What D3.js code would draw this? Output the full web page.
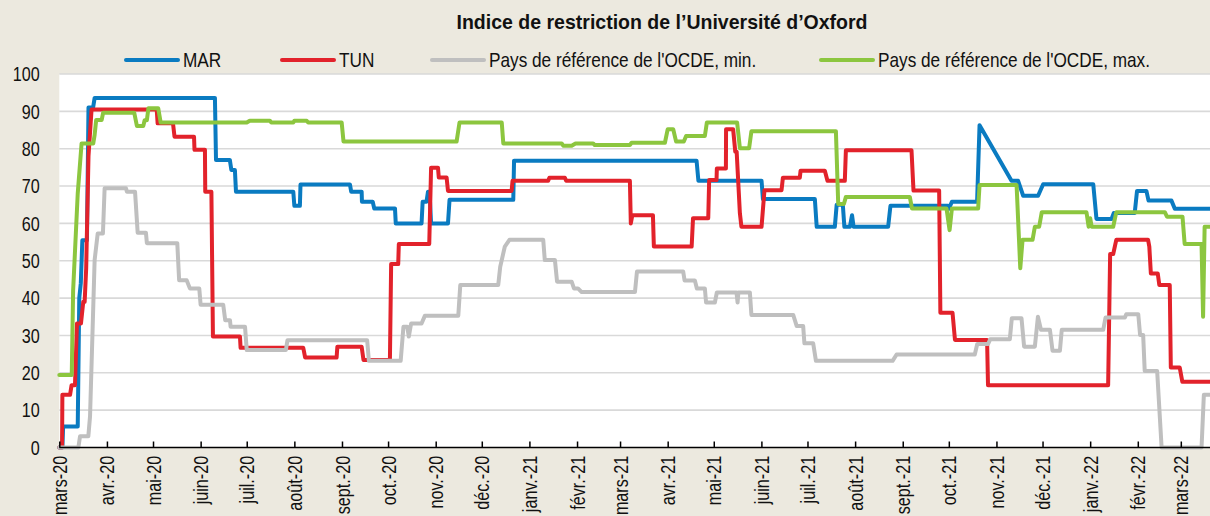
<!DOCTYPE html>
<html><head><meta charset="utf-8">
<script src="https://cdn.jsdelivr.net/npm/d3@7"></script>
<style>
html,body{margin:0;padding:0;background:#ECE9DF;}
svg{display:block;}
text{font-family:"Liberation Sans",Arial,sans-serif;fill:#111;}
</style></head>
<body>
<svg id="chart" width="1210" height="516"></svg>
<script>
// ---- DATA (day offset from 1 March 2020, index value) ----
const TITLE = "Indice de restriction de l\u2019Université d\u2019Oxford";
const seriesNames = ["MAR", "TUN", "Pays de référence de l'OCDE, min.", "Pays de référence de l'OCDE, max."];
const seriesColors = ["#0A7BC1", "#E2222B", "#BFBFBF", "#8CC63F"];
const yTicks = [0,10,20,30,40,50,60,70,80,90,100];
const monthLabels = ["mars-20","avr.-20","mai-20","juin-20","juil.-20","août-20","sept.-20","oct.-20","nov.-20","déc.-20",
  "janv.-21","févr.-21","mars-21","avr.-21","mai-21","juin-21","juil.-21","août-21","sept.-21","oct.-21","nov.-21","déc.-21",
  "janv.-22","févr.-22","mars-22"];
const lastDay = 749;

const MAR = [[0,0],[2,0],[2.5,5.6],[12,5.6],[13,40],[14,44],[15,55.5],[18,55.5],[19,91],[22,91],[23,93.6],[101.3,93.6],[102,77],
 [111,77],[112,74.3],[114.3,74.3],[115,68.5],[152.3,68.5],[153,64.7],[156.6,64.7],[157,70.4],[189.2,70.4],[190,68.5],
 [196.8,68.5],[197,65.8],[204,65.8],[205,64],[218.5,64],[219,60],[235.8,60],[236.5,65.8],[239,65.8],[240,68.5],[241,68.5],
 [242,60],[253,60],[254,66.3],[295.5,66.3],[296,76.8],[414.8,76.8],[416,71.4],[457.1,71.4],[458,66.5],[491.8,66.5],
 [493,59.1],[504.8,59.1],[506,65],[510,65],[511,59.1],[514.6,59.1],[516,62.2],[517,59.1],[539.5,59.1],[541,64.7],
 [578.6,64.7],[579,63.9],[581,65.8],[597.4,65.8],[599,86.3],[619.8,71.4],[624.1,71.4],[627.4,67.4],[637.1,67.4],
 [640.4,70.5],[673,70.5],[675.1,61.2],[684.9,61.2],[686.4,62.8],[700,62.8],[701.5,68.7],[707.6,68.7],[709,66.1],
 [723.9,66.1],[726.1,63.9],[749,63.9]];

const TUN = [[0,0],[1.8,0],[2,14.1],[7,14.1],[8,16.7],[10.2,16.7],[11.5,33.2],[14.1,33.2],[15.6,39],[16.5,39],[17.5,48],
 [19,78],[21,90.5],[63.4,90.5],[64,86.8],[74,86.8],[75,83.2],[87.7,83.2],[88,79.7],[94.8,79.7],[95,68.5],[99,68.5],
 [100,29.7],[117.6,29.7],[118,26.7],[158.8,26.7],[160,24.1],[180.5,24.1],[181,27],[196.8,27],[198,23.4],[215.2,23.4],
 [216,49.1],[220.6,49.1],[221,54.5],[240.8,54.5],[242,74.9],[246.5,74.9],[247,72.3],[252.1,72.3],[253,68.7],
 [294.4,68.7],[295,71.4],[318.2,71.4],[319,72.2],[329.1,72.2],[330,71.4],[371.4,71.4],[372,60],[373,62.2],[386.4,62.2],
 [387,53.8],[411.6,53.8],[412.5,61.4],[422.4,61.4],[423,71.6],[427.8,71.6],[428,74.7],[433.9,74.7],[434,85.2],
 [438.6,85.2],[440,79.2],[440.9,79.2],[443,62.7],[444,59.1],[457.1,59.1],[459,68.9],[470.1,68.9],[471,72.2],[482,72.2],
 [482.5,74.1],[498.3,74.1],[500,71.4],[511.3,71.4],[512,79.6],[554.7,79.6],[556,68.8],[572.7,68.8],[573.5,36.1],
 [581.4,36.1],[583,28.8],[603.9,28.8],[604.5,16.7],[682.7,16.7],[684,51.8],[686,51.8],[688,55.6],[708.7,55.6],
 [709.5,53.8],[710.5,46.6],[715,46.6],[716,43.5],[722.8,43.5],[723.5,21.4],[729.3,21.4],[731,17.6],[749,17.6]];

const OCDE_MIN = [[0,0],[12.4,0],[13.5,3],[18.9,3],[20,8.3],[23,50.2],[25,57.3],[28.4,57.3],[29.5,69.4],[43.4,69.4],
 [44,68.5],[49.3,68.5],[51,57.5],[56.4,57.5],[57,54.7],[76.8,54.7],[78,44.8],[82.9,44.8],[85,42.6],[91.1,42.6],[92,38.2],
 [106.7,38.2],[108,34.1],[111.1,34.1],[111.5,32.3],[120.9,32.3],[122,26.1],[147.5,26.1],[148.5,28.7],[200.4,28.7],
 [201.5,23.2],[222.2,23.2],[224,32.3],[226.5,32.3],[227.5,29.7],[229,33.2],[235.8,33.2],[238,35.3],[259.7,35.3],
 [261,43.5],[285.7,43.5],[287,48.4],[290,53.8],[293,55.6],[315,55.6],[316,50.2],[322.6,50.2],[324,44.4],[333.5,44.4],
 [335,42.6],[337.6,42.6],[340,41.6],[374.7,41.6],[376,47.1],[406.1,47.1],[407,44.7],[413.7,44.7],[415,42.6],[420.2,42.6],
 [421,38.8],[426.7,38.8],[428,41.5],[440.8,41.5],[441.5,38.8],[442,41.5],[449.5,41.5],[450.5,35.5],[477.7,35.5],
 [480,32.5],[484.2,32.5],[485,27.9],[490.7,27.9],[492.5,23.2],[542.4,23.2],[545,24.9],[595.9,24.9],[597.5,27.7],
 [604.5,27.7],[606,29],[618.7,29],[620,34.6],[626.3,34.6],[628,27],[635,27],[637,35],[639,31.5],[644.8,31.5],
 [646.5,25.9],[651.3,25.9],[652.5,31.5],[679.5,31.5],[681,34.8],[693.6,34.8],[694.5,35.7],[702.3,35.7],[703.5,30.1],
 [705.5,30.1],[706.5,20.5],[714.6,20.5],[717.5,0],[743.5,0],[745,14.1],[749,14.1]];

const OCDE_MAX = [[0,19.4],[8.1,19.4],[9,42],[12,68],[14.5,81.4],[22.1,81.4],[23,83.7],[24,87.7],[27.6,87.7],[28.5,89.6],
 [48.8,89.6],[50.5,86.1],[54.7,86.1],[55.5,87.6],[57,87.6],[58,90.8],[64.4,90.8],[66,87],[122,87],[124,87.5],[137.1,87.5],
 [138,87],[152.3,87],[153,87.5],[161,87.5],[162,87],[183.8,87],[185,81.9],[258.6,81.9],[260.5,87],[288,87],[289,81.4],
 [327,81.4],[328,80.8],[333.5,80.8],[336,81.4],[347.5,81.4],[348.5,81],[371.4,81],[372.5,81.6],[394.2,81.6],[396,85.2],
 [399.6,85.2],[401.5,81.9],[406.5,81.9],[408,83.4],[420.2,83.4],[421.5,87],[441.2,87],[443,80.1],[449,80.1],[450.5,84.7],
 [505.5,84.7],[507,65.2],[510.7,65.2],[512,67.1],[553.6,67.1],[555,64],[577.5,64],[579.5,58.2],[581,64],[598.1,64],
 [599,70.3],[623.1,70.3],[625.5,48],[627,55.6],[633.5,55.6],[635,59.1],[637.8,59.1],[639.5,63],[668.6,63],[670,59.1],
 [671,61.4],[672,59.1],[686,59.1],[688,63],[719.6,63],[721,61.8],[731.1,61.8],[732.5,54.5],[743.5,54.5],[744.5,35],
 [745.5,59.1],[749,59.1]];

const allSeries = [MAR, TUN, OCDE_MIN, OCDE_MAX];

// ---- CHART ----
const W = 1210, H = 516;
const M = {left: 59.3, right: 0, top: 74, bottom: 68.5};
const NARROW = 0.82;           // horizontal squeeze emulating a narrow face
const START = new Date(2020, 2, 1);
const toDate = d => new Date(START.getTime() + d * 864e5);

const svg = d3.select("#chart");
const x = d3.scaleTime().domain([START, toDate(lastDay)]).range([M.left, W - M.right]);
const y = d3.scaleLinear().domain([0, 100]).range([H - M.bottom, M.top]);

// plot background
svg.append("rect").attr("x", M.left).attr("y", M.top)
  .attr("width", W - M.right - M.left).attr("height", y(0) - M.top).attr("fill", "#fff");

// gridlines
svg.append("g").selectAll("line").data(yTicks.filter(d => d > 0)).join("line")
  .attr("x1", M.left).attr("x2", W - M.right)
  .attr("y1", d => y(d)).attr("y2", d => y(d))
  .attr("stroke", "#D9D9D9").attr("stroke-width", 1.6);

// y labels
const yAxis = d3.axisLeft(y).tickValues(yTicks).tickSize(0).tickPadding(0);
const gy = svg.append("g").attr("transform", `translate(${M.left - 19.5},0)`).call(yAxis);
gy.select(".domain").remove();
gy.selectAll("text").attr("x", 0).attr("font-size", 19.5).attr("dy", "0.35em")
  .attr("transform", `scale(${NARROW + 0.01},1)`)
  .style("font-family", "'Liberation Sans',Arial,sans-serif").attr("fill", "#111");

// lines
const line = d3.line().x(d => x(toDate(d[0]))).y(d => y(d[1])).curve(d3.curveLinear);
svg.append("g").selectAll("path").data(allSeries).join("path")
  .attr("d", line).attr("fill", "none")
  .attr("stroke", (d, i) => seriesColors[i]).attr("stroke-width", 4)
  .attr("stroke-linejoin", "round").attr("stroke-linecap", "round");

// x axis
const months = d3.timeMonth.range(START, toDate(lastDay));
const xAxis = d3.axisBottom(x).tickValues(months).tickSize(-6)
  .tickFormat((d, i) => monthLabels[i]);
const gx = svg.append("g").attr("transform", `translate(0,${y(0)})`).call(xAxis);
gx.select(".domain").attr("stroke", "#000").attr("stroke-width", 1.5)
  .attr("d", `M${M.left},0H${W}`);
gx.selectAll(".tick line").attr("stroke", "#000").attr("stroke-width", 1.5);
gx.selectAll(".tick text")
  .attr("transform", `rotate(-90) scale(${NARROW + 0.01},1)`)
  .attr("text-anchor", "end").attr("x", -10).attr("y", 0).attr("dy", "0.36em")
  .attr("font-size", 19.5).attr("fill", "#111")
  .style("font-family", "'Liberation Sans',Arial,sans-serif");

// title
svg.append("text").attr("transform", "translate(662,29) scale(0.93,1)").attr("text-anchor", "middle")
  .attr("font-size", 21).attr("font-weight", "bold").text(TITLE);

// legend
const legendX = [126, 282, 432, 821];
const lg = svg.append("g").selectAll("g").data(seriesNames).join("g")
  .attr("transform", (d, i) => `translate(${legendX[i]},60)`);
lg.append("line").attr("x1", 0).attr("x2", 52).attr("y1", 0).attr("y2", 0)
  .attr("stroke", (d, i) => seriesColors[i]).attr("stroke-width", 4).attr("stroke-linecap", "round");
lg.append("text").attr("transform", `translate(57,0) scale(${NARROW},1)`).attr("dy", "0.35em")
  .attr("font-size", 21).text(d => d);
</script>
</body></html>
